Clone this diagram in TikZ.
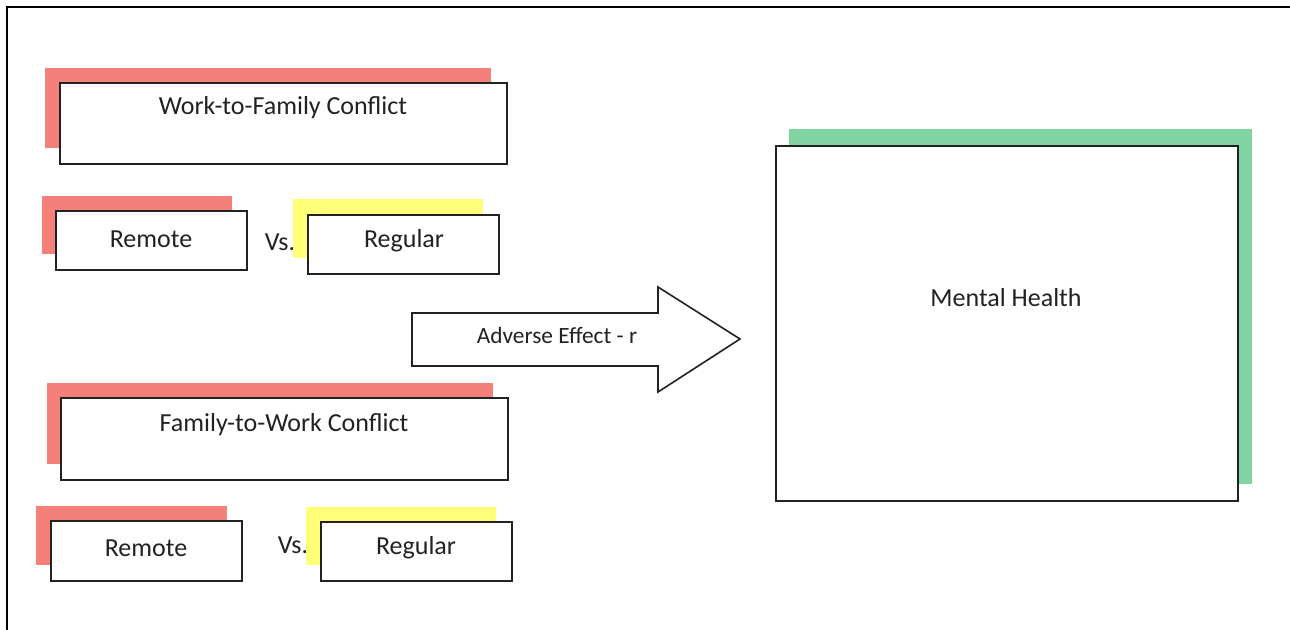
\documentclass[tikz,border=0pt]{standalone}
\usepackage{fontspec}
\setmainfont{Carlito}
\usetikzlibrary{fit}
\definecolor{shred}{RGB}{245,128,122}
\definecolor{shyellow}{RGB}{255,255,120}
\definecolor{shgreen}{RGB}{128,212,162}
\definecolor{ink}{RGB}{34,34,34}
\tikzset{
  box/.style={draw=ink, line width=1.2pt, fill=white, inner sep=0pt},
  shadow/.style={inner sep=0pt},
  bigtxt/.style={text=ink, font=\fontsize{19.5}{22}\selectfont, inner sep=0pt},
  smalltxt/.style={text=ink, font=\fontsize{17.5}{20}\selectfont, inner sep=0pt},
}
\begin{document}
\begin{tikzpicture}[x=0.75pt,y=-0.75pt]
\useasboundingbox (0,0) rectangle (1290,629);
\fill[white] (0,0) rectangle (1290,629);
% outer frame
\draw[line width=1.6pt, black] (7,640) -- (7,7) -- (1300,7);

% Work-to-Family
\node[shadow, fill=shred, fit={(45,68)(491,148)}] (s1) {};
\node[box, fit={(60,83)(507,164)}] (b1) {};
\node[bigtxt] (t1) at (283,108) {Work-to-Family Conflict};

\node[shadow, fill=shred, fit={(42,196)(232,254)}] (s2) {};
\node[box, fit={(56,211)(247,270)}] (b2) {};
\node[bigtxt] (t2) at (151,239) {Remote};
\node[bigtxt] (v1) at (280,242) {Vs.};
\node[shadow, fill=shyellow, fit={(293,199)(483,258)}] (s3) {};
\node[box, fit={(308,215)(499,274)}] (b3) {};
\node[bigtxt] (t3) at (404,241) {Regular};

% Family-to-Work
\node[shadow, fill=shred, fit={(47,383)(493,464)}] (s4) {};
\node[box, fit={(61,398)(508,480)}] (b4) {};
\node[bigtxt] (t4) at (284,425) {Family-to-Work Conflict};

\node[shadow, fill=shred, fit={(36,506)(227,565)}] (s5) {};
\node[box, fit={(51,521)(242,581)}] (b5) {};
\node[bigtxt] (t5) at (146,548) {Remote};
\node[bigtxt] (v2) at (293,545) {Vs.};
\node[shadow, fill=shyellow, fit={(306,507)(496,565)}] (s6) {};
\node[box, fit={(321,522)(512,581)}] (b6) {};
\node[bigtxt] (t6) at (416,548) {Regular};

% Arrow
\draw[draw=ink, line width=1.2pt, fill=white, line join=miter]
  (412,313) -- (658,313) -- (658,287) -- (740,339) -- (658,392) -- (658,366) -- (412,366) -- cycle;
\node[smalltxt] (adv) at (557,335) {Adverse Effect - r};

% Mental Health
\node[shadow, fill=shgreen, fit={(789,129)(1252,484)}] (s7) {};
\node[box, fit={(776,146)(1238,501)}] (b7) {};
\node[bigtxt] (t7) at (1006,298) {Mental Health};
\end{tikzpicture}
\end{document}
